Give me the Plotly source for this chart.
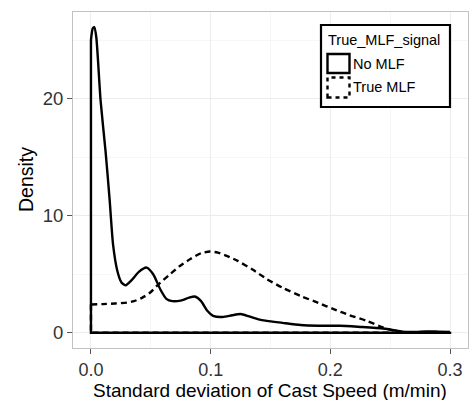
import plotly.graph_objects as go

# No MLF density (solid)
no_mlf_x = [0, 0.0015, 0.0028, 0.0045, 0.008, 0.0122, 0.0155, 0.0185, 0.022, 0.0255,
            0.029, 0.034, 0.040, 0.0465, 0.052, 0.058, 0.063, 0.068, 0.075, 0.082,
            0.0867, 0.092, 0.097, 0.102, 0.11, 0.118, 0.125, 0.132, 0.14, 0.147,
            0.16, 0.175, 0.19, 0.208, 0.225, 0.244, 0.252, 0.26, 0.27, 0.28, 0.29, 0.3]
no_mlf_y = [25.0, 26.0, 26.1, 25.2, 19.9, 15.5, 11.5, 7.5, 5.3, 4.3,
            4.05, 4.5, 5.2, 5.57, 5.0, 3.7, 2.9, 2.7, 2.75, 3.0,
            3.1, 2.7, 1.9, 1.45, 1.35, 1.5, 1.6, 1.4, 1.15, 1.02,
            0.85, 0.66, 0.6, 0.6, 0.5, 0.37, 0.25, 0.1, 0.07, 0.12, 0.1, 0.08]

# True MLF density (dashed)
true_mlf_x = [0, 0.01, 0.02, 0.03, 0.036, 0.043, 0.0495, 0.056, 0.065, 0.0743,
              0.083, 0.092, 0.0994, 0.106, 0.114, 0.1226, 0.135, 0.147, 0.16, 0.175,
              0.19, 0.2027, 0.216, 0.2304, 0.244, 0.255, 0.265, 0.28, 0.3]
true_mlf_y = [2.42, 2.45, 2.5, 2.58, 2.7, 3.0, 3.44, 4.1, 4.9, 5.7,
              6.3, 6.8, 6.94, 6.85, 6.55, 6.14, 5.4, 4.58, 3.85, 3.15,
              2.55, 2.02, 1.5, 1.02, 0.46, 0.12, 0.03, 0.02, 0.01]

x_ticks = [0.0, 0.1, 0.2, 0.3]
x_tick_labels = ["0.0", "0.1", "0.2", "0.3"]
y_ticks = [0, 10, 20]
y_tick_labels = ["0", "10", "20"]

series = [
    ("No MLF", no_mlf_x, no_mlf_y, "solid"),
    ("True MLF", true_mlf_x, true_mlf_y, "6px,4px"),
]

FONT = "Liberation Sans, Arial, sans-serif"
fig = go.Figure()

for name, xs, ys, dash in series:
    # closing baseline of the density polygon
    fig.add_trace(go.Scatter(
        x=[xs[0], xs[0], xs[-1], xs[-1]], y=[ys[0], 0, 0, ys[-1]],
        mode="lines", line=dict(color="black", width=2.4, dash=dash),
        showlegend=False, hoverinfo="skip"))
    fig.add_trace(go.Scatter(
        x=xs, y=ys, mode="lines", name=name,
        line=dict(color="black", width=2.4, dash=dash, shape="spline", smoothing=0.6),
        showlegend=False))

grid_major = "#ececec"
grid_minor = "#f6f6f6"

W, H = 470, 400
L, R, T, B = 73, 2, 12, 52
PW, PH = W - L - R, H - T - B

fig.update_layout(
    width=W, height=H,
    margin=dict(l=L, r=R, t=T, b=B, autoexpand=False),
    paper_bgcolor="white", plot_bgcolor="white",
    font=dict(family=FONT, color="black"),
    xaxis=dict(
        range=[-0.015, 0.315], tickvals=x_ticks, ticktext=x_tick_labels,
        showgrid=True, gridcolor=grid_major, gridwidth=1,
        minor=dict(dtick=0.05, tick0=0, showgrid=True, gridcolor=grid_minor, gridwidth=1),
        showline=True, linecolor="#c2c2c2", linewidth=1, mirror=True,
        ticks="outside", ticklen=5, tickcolor="#555555", tickwidth=1,
        tickfont=dict(size=18, color="#333333", family=FONT),
        zeroline=False, automargin=False,
    ),
    yaxis=dict(
        range=[-1.3, 27.4], tickvals=y_ticks, ticktext=y_tick_labels,
        showgrid=True, gridcolor=grid_major, gridwidth=1,
        minor=dict(dtick=5, tick0=0, showgrid=True, gridcolor=grid_minor, gridwidth=1),
        showline=True, linecolor="#c2c2c2", linewidth=1, mirror=True,
        ticks="outside", ticklen=5, tickcolor="#555555", tickwidth=1,
        tickfont=dict(size=18.5, color="#333333", family=FONT),
        zeroline=False, automargin=False,
    ),
)

def px(x):
    return (x - L) / PW
def py(y):
    return (H - B - y) / PH

# Axis titles
fig.add_annotation(xref="paper", yref="paper", x=px(270), y=py(390),
                   text="Standard deviation of Cast Speed (m/min)", showarrow=False,
                   xanchor="center", yanchor="middle",
                   font=dict(size=19, color="black", family=FONT))
fig.add_annotation(xref="paper", yref="paper", x=px(26), y=py(180),
                   text="Density", showarrow=False, textangle=-90,
                   xanchor="center", yanchor="middle",
                   font=dict(size=19.5, color="black", family=FONT))

# Legend (ggplot-style boxed legend with square keys)
shapes = [
    dict(type="rect", xref="paper", yref="paper", x0=px(321), x1=px(450), y0=py(107), y1=py(25),
         line=dict(color="black", width=2.2), fillcolor="white", layer="above"),
    dict(type="rect", xref="paper", yref="paper", x0=px(327.5), x1=px(349.5), y0=py(73), y1=py(54),
         line=dict(color="black", width=2.4), fillcolor="white", layer="above"),
    dict(type="rect", xref="paper", yref="paper", x0=px(327.5), x1=px(349.5), y0=py(97.5), y1=py(77.5),
         line=dict(color="black", width=2.4, dash="4px,4px"), fillcolor="white", layer="above"),
]
fig.update_layout(shapes=shapes)

fig.add_annotation(xref="paper", yref="paper", x=px(326), y=py(40), text="True_MLF_signal",
                   showarrow=False, xanchor="left", yanchor="middle",
                   font=dict(size=14.5, color="black", family=FONT))
fig.add_annotation(xref="paper", yref="paper", x=px(351), y=py(64), text=series[0][0],
                   showarrow=False, xanchor="left", yanchor="middle",
                   font=dict(size=14.5, color="black", family=FONT))
fig.add_annotation(xref="paper", yref="paper", x=px(351), y=py(87), text=series[1][0],
                   showarrow=False, xanchor="left", yanchor="middle",
                   font=dict(size=14.5, color="black", family=FONT))

fig.write_html("out.html", config={"displayModeBar": False},
               post_script="document.body.style.margin='0';document.body.style.overflow='hidden';")
